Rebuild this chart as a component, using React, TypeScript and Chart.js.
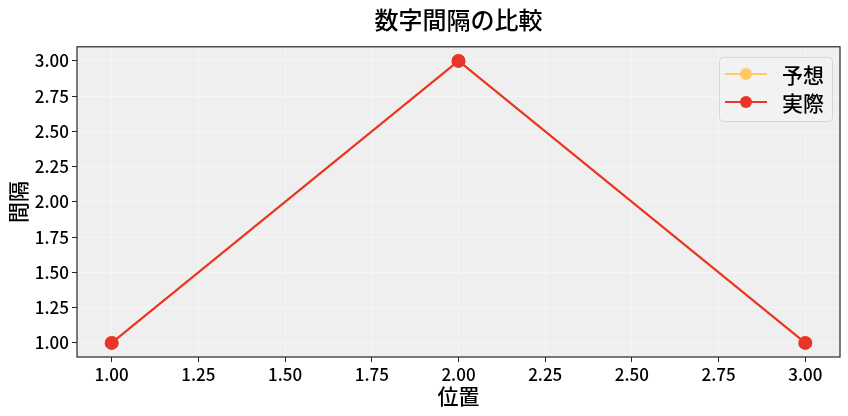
import { useEffect, useRef } from 'react'
import { Chart, registerables } from 'chart.js'

Chart.register(...registerables)

// data
const positions = [1, 2, 3]
const expected = [1, 3, 1]
const actual = [1, 3, 1]
const xTicks = [1, 1.25, 1.5, 1.75, 2, 2.25, 2.5, 2.75, 3]
const yTicks = [1, 1.25, 1.5, 1.75, 2, 2.25, 2.5, 2.75, 3]
const seriesNames = ['予想', '実際']

const FONT = '"Noto Sans CJK JP", "Noto Sans", sans-serif'
const YELLOW = '#FFC966'
const RED = '#E8342A'
const GRID = 'rgba(255,255,255,0.4)'

// no extra room for half labels, matplotlib style
const noPad = (s: any) => {
  s.paddingTop = 0
  s.paddingBottom = 0
  s.paddingLeft = 0
  s.paddingRight = 0
}

const frame = {
  id: 'frame',
  beforeDraw(chart: Chart) {
    const { ctx, chartArea: a } = chart
    ctx.save()
    ctx.fillStyle = '#ffffff'
    ctx.fillRect(0, 0, chart.width, chart.height)
    ctx.fillStyle = '#efefef'
    ctx.fillRect(a.left, a.top, a.right - a.left, a.bottom - a.top)
    ctx.restore()
  },
  afterDraw(chart: Chart) {
    const { ctx, chartArea: a } = chart
    ctx.save()
    ctx.strokeStyle = '#262626'
    ctx.lineWidth = 1.2
    ctx.strokeRect(a.left, a.top, a.right - a.left, a.bottom - a.top)

    // legend box
    const bx = 719.5, by = 57.5, bw = 113, bh = 64
    ctx.fillStyle = 'rgba(242,242,242,0.85)'
    ctx.strokeStyle = '#d6d6d6'
    ctx.lineWidth = 1
    ctx.beginPath()
    ctx.roundRect(bx, by, bw, bh, 4)
    ctx.fill()
    ctx.stroke()
    const colors = [YELLOW, RED]
    seriesNames.forEach((name, i) => {
      const cy = 74 + i * 28
      ctx.strokeStyle = colors[i]
      ctx.lineWidth = 2
      ctx.beginPath()
      ctx.moveTo(725, cy)
      ctx.lineTo(767, cy)
      ctx.stroke()
      ctx.fillStyle = colors[i]
      ctx.beginPath()
      ctx.arc(746, cy, 6, 0, Math.PI * 2)
      ctx.fill()
      ctx.fillStyle = '#000'
      ctx.font = `500 21px ${FONT}`
      ctx.textBaseline = 'middle'
      ctx.textAlign = 'left'
      ctx.fillText(name, 782, cy + 1)
    })
    ctx.restore()
  },
}

export default function App() {
  const canvasRef = useRef<HTMLCanvasElement>(null)

  useEffect(() => {
    document.body.style.margin = '0'
    if (!canvasRef.current) return
    const chart = new Chart(canvasRef.current, {
      type: 'line',
      data: {
        datasets: [
          {
            label: seriesNames[0],
            data: positions.map((x, i) => ({ x, y: expected[i] })),
            borderColor: YELLOW,
            backgroundColor: YELLOW,
            borderWidth: 2,
            pointRadius: 6,
            pointHoverRadius: 6,
            tension: 0,
            order: 1,
          },
          {
            label: seriesNames[1],
            data: positions.map((x, i) => ({ x, y: actual[i] })),
            borderColor: RED,
            backgroundColor: RED,
            borderWidth: 2,
            pointRadius: 6,
            pointHoverRadius: 6,
            tension: 0,
            order: 0,
          },
        ],
      },
      options: {
        animation: false,
        responsive: false,
        layout: { autoPadding: false, padding: { left: 0, right: 8, top: 0, bottom: 0 } },
        plugins: {
          legend: { display: false },
          tooltip: { enabled: false },
          title: {
            display: true,
            fullSize: false,
            text: '数字間隔の比較',
            color: '#000',
            font: { family: FONT, size: 24, weight: 500, lineHeight: 1.2 },
            padding: { top: 5, bottom: 13 },
          },
        },
        scales: {
          x: {
            type: 'linear',
            min: 0.9,
            max: 3.1,
            afterBuildTicks: s => { s.ticks = xTicks.map(v => ({ value: v })) },
            afterFit: s => { s.height = 59; noPad(s) },
            ticks: {
              color: '#000',
              font: { family: FONT, size: 17, weight: 500 },
              padding: 2,
              maxRotation: 0,
              callback: v => Number(v).toFixed(2),
            },
            grid: { color: GRID, tickColor: '#262626', tickLength: 5, lineWidth: 1 },
            border: { display: false },
            title: {
              display: true,
              text: '位置',
              color: '#000',
              font: { family: FONT, size: 21, weight: 500, lineHeight: 1.2 },
              padding: { top: 0, bottom: 7 },
            },
          },
          y: {
            type: 'linear',
            min: 0.9,
            max: 3.1,
            afterBuildTicks: s => { s.ticks = yTicks.map(v => ({ value: v })) },
            afterFit: s => { s.width = 77; noPad(s) },
            ticks: {
              color: '#000',
              font: { family: FONT, size: 17, weight: 500 },
              padding: 3,
              callback: v => Number(v).toFixed(2),
            },
            grid: { color: GRID, tickColor: '#262626', tickLength: 5, lineWidth: 1 },
            border: { display: false },
            title: {
              display: true,
              text: '間隔',
              color: '#000',
              font: { family: FONT, size: 21, weight: 500, lineHeight: 1.2 },
              padding: { top: 5, bottom: 0 },
            },
          },
        },
      },
      plugins: [frame],
    })
    return () => chart.destroy()
  }, [])

  return (
    <div style={{ width: 848, height: 416 }}>
      <canvas ref={canvasRef} width={848} height={416} style={{ display: 'block' }} />
    </div>
  )
}
